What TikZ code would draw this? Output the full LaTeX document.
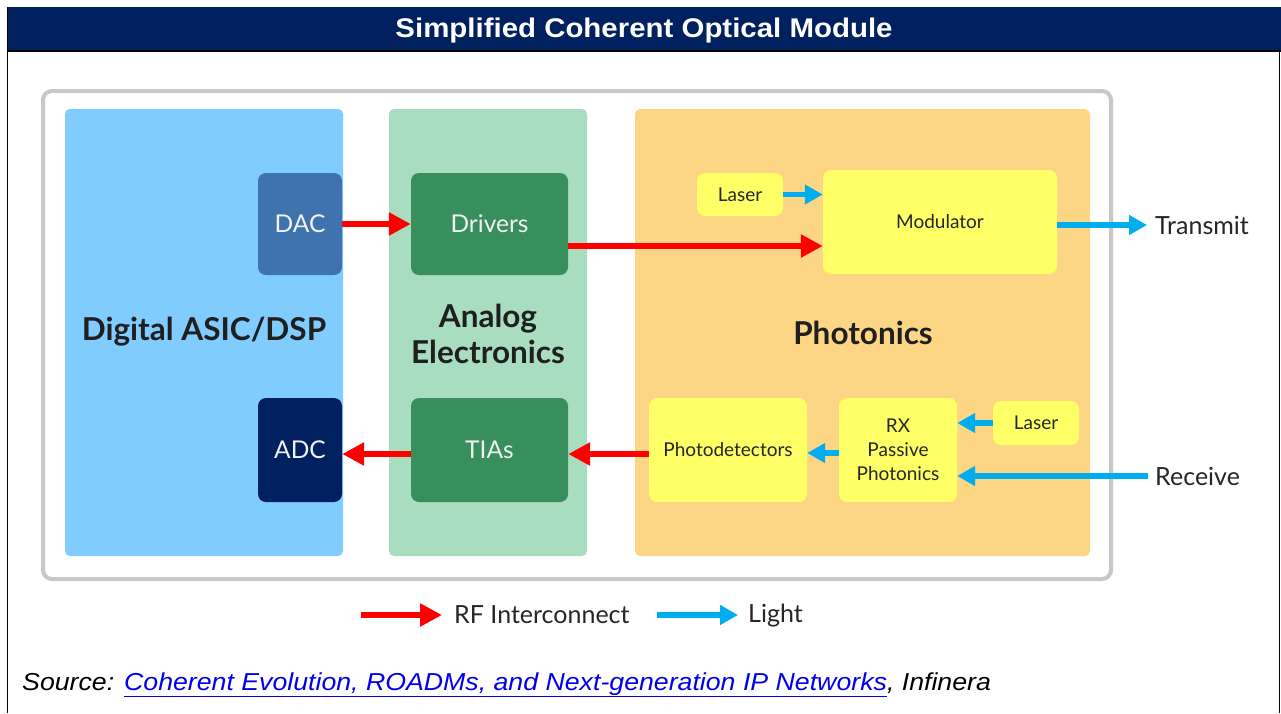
\documentclass[tikz,border=0pt]{standalone}
\usepackage{fontspec}
\setmainfont{Lato}
\newfontfamily\titlef{Liberation Sans}[FakeStretch=1.09]
\usetikzlibrary{arrows.meta}
\definecolor{navy}{HTML}{002060}
\definecolor{dacblue}{HTML}{3E73AD}
\definecolor{digi}{HTML}{80CCFF}
\definecolor{anal}{HTML}{A8DDBF}
\definecolor{phot}{HTML}{FCD684}
\definecolor{grn}{HTML}{378F5B}
\definecolor{yel}{HTML}{FFFF66}
\definecolor{rfred}{HTML}{FF0000}
\definecolor{ltblue}{HTML}{00AEEF}
\definecolor{framegray}{HTML}{C8C8C8}
\definecolor{linkblue}{HTML}{0000EE}
\newcommand{\fs}[2]{\fontsize{#1}{#2}\selectfont}
\tikzset{
  panel/.style={rounded corners=5pt, inner sep=0pt, draw=none},
  blk/.style={rounded corners=8pt, inner sep=0pt, text=white!95!black, font=\fs{24.5}{28}},
  ybox/.style={rounded corners=8pt, inner sep=0pt, fill=yel, text=black!85, align=center, font=\fs{19}{24}},
  rf/.style={draw=rfred, line width=5.5pt, -{Triangle[width=22pt,length=22pt]}},
  lt/.style={draw=ltblue, line width=5.5pt, -{Triangle[width=19pt,length=18pt]}},
  plabel/.style={font=\bfseries\fs{31.5}{36}, text=black!88, align=center},
  side/.style={font=\fs{25}{28}, text=black!85, inner sep=0pt, anchor=west},
}
\begin{document}
\begin{tikzpicture}[x=1pt,y=-1pt]
\useasboundingbox (0,0) rectangle (1281,713);
\fill[white] (0,0) rectangle (1281,713);
% frame
\fill[navy] (7,7) rectangle (1281,50);
\draw[black, line width=1.5pt] (7,51) -- (1281,51);
\draw[black, line width=1.2pt] (7.5,7) -- (7.5,713);
\draw[black, line width=1.2pt] (1279.5,50) -- (1279.5,713);
\node[font=\titlef\bfseries\fs{27}{30}, text=white, anchor=base, inner sep=0pt] (title) at (644,37) {Simplified Coherent Optical Module};
% outer gray
\draw[framegray, line width=4pt, rounded corners=9pt] (43,91) rectangle (1111,579);
% panels
\node[panel, fill=digi, minimum width=278pt, minimum height=447pt] (digital) at (204,332.5) {};
\node[panel, fill=anal, minimum width=198pt, minimum height=447pt] (analog) at (488,332.5) {};
\node[panel, fill=phot, minimum width=455pt, minimum height=447pt] (photonics) at (862.5,332.5) {};
\node[plabel] (digitallbl) at (204,332) {Digital ASIC/DSP};
\node[plabel] (analoglbl) at (488,334) {Analog\\Electronics};
\node[plabel] (photlbl) at (863,333) {Photonics};
% blocks
\node[blk, fill=dacblue, minimum width=84pt, minimum height=102pt] (dac) at (300,224) {DAC};
\node[blk, fill=navy, minimum width=84pt, minimum height=104pt] (adc) at (300,450) {ADC};
\node[blk, fill=grn, minimum width=157pt, minimum height=102pt] (drivers) at (489.5,224) {Drivers};
\node[blk, fill=grn, minimum width=157pt, minimum height=104pt] (tias) at (489.5,450) {TIAs};
\node[ybox, minimum width=86pt, minimum height=43pt] (laser1) at (740,194.5) {Laser};
\node[ybox, minimum width=234pt, minimum height=104pt] (mod) at (940,222) {Modulator};
\node[ybox, minimum width=158pt, minimum height=104pt] (pd) at (728,450) {Photodetectors};
\node[ybox, minimum width=118pt, minimum height=104pt] (rx) at (898,450) {RX\\Passive\\Photonics};
\node[ybox, minimum width=86pt, minimum height=44pt] (laser2) at (1036,423) {Laser};
\node[side, inner xsep=8pt] (tx) at (1147,225) {Transmit};
\node[side, inner xsep=7pt] (rcv) at (1148,476) {Receive};
% connectors
\draw[rf] (dac.east) -- (drivers.west);
\draw[rf] ([yshift=-22pt]drivers.east) -- ([yshift=-24pt]mod.west);
\draw[lt] (laser1.east) -- (laser1.east -| mod.west);
\draw[lt] ([yshift=-3pt]mod.east) -- (tx.west);
\draw[lt] (rcv.west) -- (rcv.west -| rx.east);
\draw[lt] (laser2.west) -- (laser2.west -| rx.east);
\draw[lt] ([yshift=-3pt]rx.west) -- ([yshift=-3pt]pd.east);
\draw[rf] ([yshift=-4pt]pd.west) -- ([yshift=-4pt]tias.east);
\draw[rf] ([yshift=-4pt]tias.west) -- ([yshift=-4pt]adc.east);
% legend
\coordinate (rfa) at (361,615);
\coordinate (rfb) at (442,615);
\coordinate (lta) at (657,615);
\coordinate (ltb) at (738,615);
\draw[rf] (rfa) -- (rfb);
\draw[lt] (lta) -- (ltb);
\node[side] (rflbl) at (454,615) {RF Interconnect};
\node[side] (ltlbl) at (748,616) {Light};
% source
\node[font=\titlef\itshape\fs{24.5}{28}, anchor=base west, inner sep=0pt] (src) at (22,690) {Source: \textcolor{linkblue}{\underline{Coherent Evolution, ROADMs, and Next-generation IP Networks}}, Infinera};
\end{tikzpicture}
\end{document}
